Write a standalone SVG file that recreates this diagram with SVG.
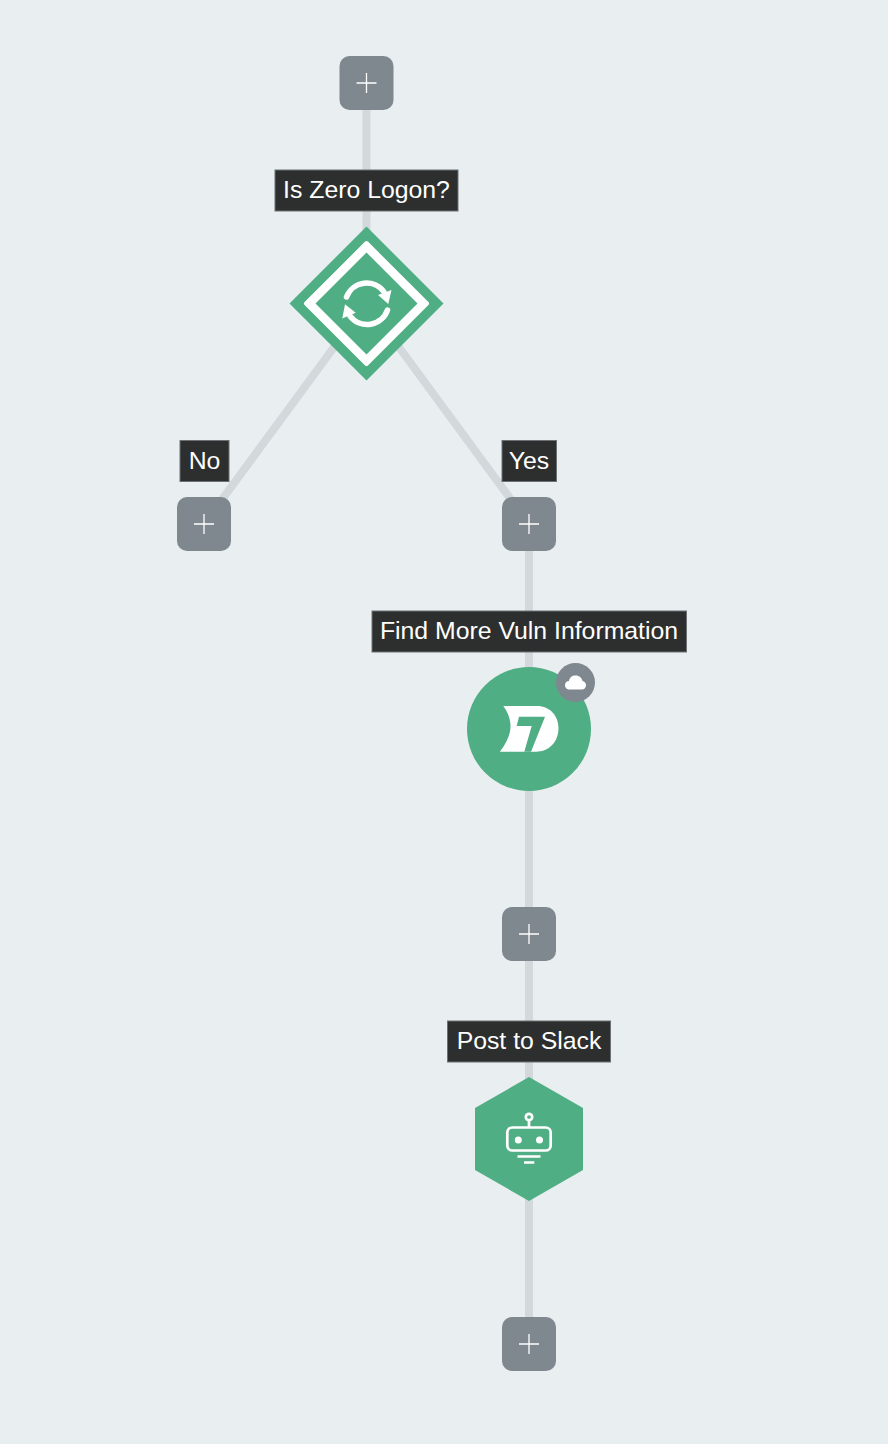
<svg xmlns="http://www.w3.org/2000/svg" width="888" height="1444" viewBox="0 0 888 1444">
<style>
.conn{stroke:#d3d8dc;stroke-width:8;fill:none}
.btn{fill:#7f878f}
.plus{stroke:#fff;stroke-width:1.3;fill:none}
.lab{fill:#292b2b;fill-opacity:.98;stroke:#6d7175;stroke-width:1}
.txt{font-family:"Helvetica Neue","Liberation Sans",Arial,sans-serif;font-size:24.8px;fill:#fff;text-anchor:middle}
.g{fill:#4fae83}
.ic{fill:none;stroke:#fff}
</style>
<defs>
<g id="add"><rect class="btn" x="-27" y="-27" width="54" height="54" rx="10"/><path class="plus" d="M-10 0H10M0 -10V10"/></g>
</defs>
<rect width="888" height="1444" fill="#e9eef1"/>
<g id="connectors">
<path class="conn" d="M366.500 83V303"/>
<path class="conn" d="M366.500 303L204 524"/>
<path class="conn" d="M366.500 303L529 524"/>
<path class="conn" d="M529 524V1344"/>
</g>
<g id="node-add-top"><use href="#add" x="366.500" y="83"/></g>
<g id="node-zero-logon">
<path class="g" d="M366.500 226.500L443.500 303.500L366.500 380.500L289.500 303.500Z"/>
<path fill="#fff" stroke="#fff" stroke-width="4" stroke-linejoin="round" d="M366.500 243L427 303.500L366.500 364L306 303.500Z"/>
<path class="g" d="M366.500 252.500L417.500 303.500L366.500 354.500L315.500 303.500Z"/>
<g class="ic" stroke-width="5.500" stroke-linecap="round">
<path d="M346.500 297A21.500 21.500 0 0 1 384 292"/>
<path d="M387.500 310A21.500 21.500 0 0 1 350 316"/>
</g>
<path fill="#fff" d="M391.500 290L388.300 304L378 295Z"/>
<path fill="#fff" d="M342.300 318.500L345 304.300L355.700 312.700Z"/>
<rect class="lab" x="275" y="170" width="183" height="41"/>
<text class="txt" x="366.500" y="198">Is Zero Logon?</text>
</g>
<g id="node-no">
<use href="#add" x="204" y="524"/>
<rect class="lab" x="180" y="440.500" width="49" height="41"/>
<text class="txt" x="204.500" y="469">No</text>
</g>
<g id="node-yes">
<use href="#add" x="529" y="524"/>
<rect class="lab" x="502" y="440.500" width="54.500" height="41"/>
<text class="txt" x="529" y="469">Yes</text>
</g>
<g id="node-vuln">
<circle class="g" cx="529" cy="729" r="62"/>
<path fill="#fff" d="M503.300 706H537C550 706 558.500 716 558.500 728C558.500 742 549 751.700 536 751.700H499.800C507 743 511 733 510.500 725C510 717 507 711 503.300 706Z"/>
<path class="g" d="M519 716.700H545L531 751.700H524.300L531.700 726H516.700Z"/>
<circle cx="575.500" cy="682.500" r="19.500" fill="#7f878f"/>
<path fill="#fff" d="M570 689.500C566.500 689.500 565 687.500 565 685C565 682.500 567 681 569 681C569.500 677.500 572 675.500 575.500 675.500C579.500 675.500 582 678 582.500 681C584.500 681.500 586 683 586 685C586 687.500 584.500 689.500 581.500 689.500Z"/>
<rect class="lab" x="372" y="611" width="314.500" height="41"/>
<text class="txt" x="529" y="639">Find More Vuln Information</text>
</g>
<g id="node-add-mid"><use href="#add" x="529" y="934"/></g>
<g id="node-slack">
<path class="g" d="M529 1077L583 1108V1170L529 1201L475 1170V1108Z"/>
<g class="ic" stroke-width="2.700">
<rect x="507.300" y="1127.500" width="43.400" height="23" rx="5"/>
<circle cx="529" cy="1117" r="3.200"/>
<path d="M529 1120V1127.500"/>
<path d="M517.500 1156.500H540.500M524 1162.500H534.300"/>
</g>
<circle cx="518.300" cy="1140" r="3.500" fill="#fff"/>
<circle cx="539.500" cy="1140" r="3.500" fill="#fff"/>
<rect class="lab" x="447.500" y="1021" width="163" height="41"/>
<text class="txt" x="529" y="1049">Post to Slack</text>
</g>
<g id="node-add-end"><use href="#add" x="529" y="1344"/></g>
</svg>
